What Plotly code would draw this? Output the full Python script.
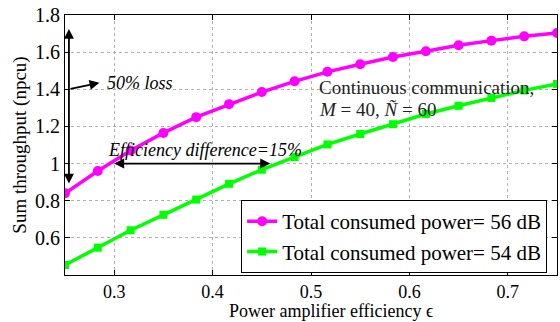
import plotly.graph_objects as go

# Power amplifier efficiency (x) and sum throughput for the two power budgets
efficiency = [0.25, 0.2833, 0.3167, 0.35, 0.3833, 0.4167, 0.45, 0.4833,
              0.5167, 0.55, 0.5833, 0.6167, 0.65, 0.6833, 0.7167, 0.75]
throughput_56db = [0.84, 0.96, 1.07, 1.165, 1.25, 1.32, 1.385, 1.443,
                   1.494, 1.535, 1.574, 1.605, 1.637, 1.662, 1.685, 1.703]
throughput_54db = [0.454, 0.547, 0.641, 0.724, 0.806, 0.891, 0.967, 1.035,
                   1.103, 1.159, 1.212, 1.267, 1.311, 1.353, 1.394, 1.429]

series_names = ["Total consumed power= 56 dB", "Total consumed power= 54 dB"]
x_ticks = [0.3, 0.4, 0.5, 0.6, 0.7]
y_ticks = [0.6, 0.8, 1.0, 1.2, 1.4, 1.6, 1.8]
y_tick_text = ["0.6", "0.8", "1", "1.2", "1.4", "1.6", "1.8"]

SERIF = "Liberation Serif, Times New Roman, serif"
MARGIN_B = 47
PLOT_H = 322 - 15 - MARGIN_B

fig = go.Figure()
fig.add_trace(go.Scatter(
    x=efficiency, y=throughput_56db, name=series_names[0],
    mode="lines+markers",
    line=dict(color="#ff00ff", width=3.5),
    marker=dict(symbol="circle", size=10, color="#ff00ff"),
))
fig.add_trace(go.Scatter(
    x=efficiency, y=throughput_54db, name=series_names[1],
    mode="lines+markers",
    line=dict(color="#00ff00", width=3.5),
    marker=dict(symbol="square", size=8, color="#00ff00"),
))

axis_common = dict(
    showline=True, linecolor="black", linewidth=1.2, mirror="ticks",
    ticks="inside", ticklen=5, tickcolor="black",
    showgrid=True, gridcolor="#b0b0b0", griddash="dot", gridwidth=1,
    zeroline=False,
)

fig.update_xaxes(
    range=[0.25, 0.75], tickvals=x_ticks,
    ticktext=[f"{v:.1f}" for v in x_ticks],
    tickfont=dict(family=SERIF, size=18, color="black"),
    **axis_common,
)
fig.update_yaxes(
    range=[0.4, 1.8], tickvals=y_ticks, ticktext=y_tick_text,
    tickfont=dict(family=SERIF, size=20, color="black"),
    title=dict(text="Sum throughput (npcu)", standoff=3,
               font=dict(family=SERIF, size=19, color="black")),
    **axis_common,
)

arrow = dict(xref="x", yref="y", axref="x", ayref="y", text="",
             showarrow=True, arrowcolor="black", arrowwidth=1.8,
             arrowhead=2, arrowsize=1.1)

annotations = [
    # vertical span between the curves at the lowest efficiency
    dict(x=0.254, y=1.725, ax=0.254, ay=0.884, arrowside="end+start", **arrow),
    # pointer to the loss label
    dict(x=0.285, y=1.435, ax=0.254, ay=1.40, **arrow),
    # horizontal span at equal throughput
    dict(x=0.3, y=1.0, ax=0.46, ay=1.0, arrowside="end+start", **arrow),
    dict(x=0.291, y=1.435, xref="x", yref="y", xanchor="left",
         text="50% loss", showarrow=False,
         font=dict(family=SERIF, size=18, color="black", style="italic")),
    dict(x=0.292, y=1.072, xref="x", yref="y", xanchor="left",
         text="Efficiency difference=15%", showarrow=False,
         font=dict(family=SERIF, size=18, color="black", style="italic")),
    dict(x=0.506, y=1.41, xref="x", yref="y", xanchor="left",
         text="Continuous communication,", showarrow=False,
         font=dict(family=SERIF, size=19, color="#222222")),
    dict(x=0.506, y=1.29, xref="x", yref="y", xanchor="left",
         text="<i>M</i> = 40, <i>Ñ</i> = 60", showarrow=False,
         font=dict(family=SERIF, size=19, color="#222222")),
    # x-axis title, sitting on the bottom edge of the figure
    dict(x=0.541, y=-MARGIN_B / PLOT_H, xref="paper", yref="paper",
         xanchor="center", yanchor="bottom", showarrow=False, borderpad=0,
         text="Power amplifier efficiency ϵ",
         font=dict(family=SERIF, size=18, color="black")),
]

fig.update_layout(
    width=560, height=322,
    margin=dict(l=65, r=3, t=15, b=MARGIN_B),
    paper_bgcolor="white", plot_bgcolor="white",
    font=dict(family=SERIF, color="black"),
    showlegend=True,
    legend=dict(
        x=0.358, y=0.288, xanchor="left", yanchor="top",
        bgcolor="white", bordercolor="black", borderwidth=1,
        font=dict(family=SERIF, size=21, color="black"),
        tracegroupgap=0, itemwidth=30,
    ),
    annotations=annotations,
)

fig.write_html("out.html")
